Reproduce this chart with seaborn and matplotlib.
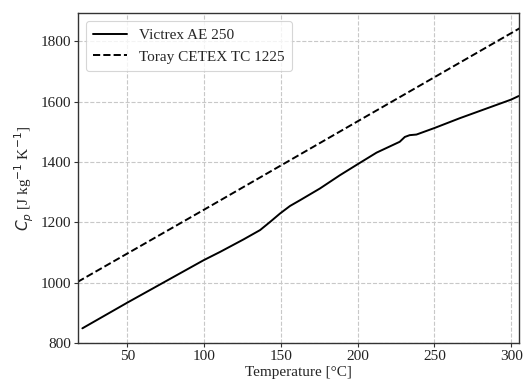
import pandas as pd
import seaborn as sns
import matplotlib.pyplot as plt

# Specific heat vs temperature
temp_victrex = [20.6, 49.8, 99.6, 110.5, 125.6, 136.4, 142.9, 149.4, 155.9, 162.4,
                175.4, 188.4, 201.4, 212.3, 227.4, 230.7, 233.9, 238.3, 250.2, 266.4,
                300.0, 305.0]
cp_victrex = [848, 933, 1074, 1102, 1143, 1174, 1201, 1229, 1254, 1273,
              1312, 1356, 1397, 1431, 1467, 1483, 1489, 1491, 1513, 1545,
              1607, 1619]

temp_toray = [17.5, 100.0, 200.0, 306.0]
cp_toray = [1002, 1242, 1535, 1845]

labels = ["Victrex AE 250", "Toray CETEX TC 1225"]

sns.set_theme(style="ticks")
plt.rcParams["font.family"] = ["Liberation Serif", "DejaVu Serif"]
plt.rcParams["mathtext.fontset"] = "dejavusans"

fig = plt.figure(figsize=(5.23, 3.83), dpi=100)
ax = fig.add_axes([0.149, 0.105, 0.843, 0.86])

sns.lineplot(x=temp_victrex, y=cp_victrex, ax=ax, color="black", lw=1.4,
             label=labels[0])
sns.lineplot(x=temp_toray, y=cp_toray, ax=ax, color="black", lw=1.4,
             linestyle="--", label=labels[1])

ax.set_xlim(17.7, 305)
ax.set_ylim(800, 1893)
ax.set_xticks([50, 100, 150, 200, 250, 300])
ax.set_yticks([800, 1000, 1200, 1400, 1600, 1800])
ax.grid(True, linestyle="--", color="#c8c8c8", linewidth=0.8)
ax.set_axisbelow(True)

for s in ax.spines.values():
    s.set_color("#333333")
    s.set_linewidth(1.0)
ax.tick_params(labelsize=11, length=3, width=0.8, colors="#333333",
               labelcolor="#222222", pad=2)

ax.set_xlabel("Temperature [°C]", fontsize=11, labelpad=2)
ax.set_ylabel("$C_p$ [J kg$^{-1}$ K$^{-1}$]", fontsize=11, labelpad=3)

leg = ax.legend(loc="upper left", fontsize=11, frameon=True, fancybox=True,
                edgecolor="#cccccc", handlelength=2.2, borderpad=0.5)
leg.get_frame().set_linewidth(0.8)

fig.savefig("out.png", dpi=100)
